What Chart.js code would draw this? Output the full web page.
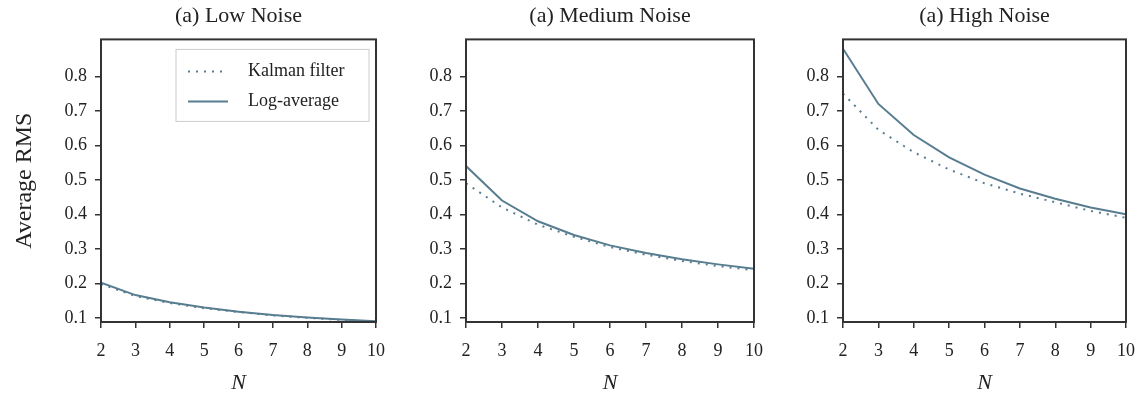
<!DOCTYPE html>
<html>
<head>
<meta charset="UTF-8">
<script src="https://cdn.jsdelivr.net/npm/chart.js"></script>
<style>
  body { margin: 0; background: #fff; overflow: hidden; }
  .panel { position: absolute; top: 0; height: 400px; }
</style>
</head>
<body>
<div class="panel" style="left:0;width:397px"><canvas id="c1"></canvas></div>
<div class="panel" style="left:385px;width:390px"><canvas id="c2"></canvas></div>
<div class="panel" style="left:763px;width:384px"><canvas id="c3"></canvas></div>
<script>
const nValues = [2, 3, 4, 5, 6, 7, 8, 9, 10];
const yTicks = [0.1, 0.2, 0.3, 0.4, 0.5, 0.6, 0.7, 0.8];
const titles = ['(a) Low Noise', '(a) Medium Noise', '(a) High Noise'];
const lowKalman = [0.198, 0.163, 0.143, 0.128, 0.117, 0.107, 0.1, 0.094, 0.089];
const lowLog = [0.202, 0.166, 0.145, 0.130, 0.118, 0.108, 0.101, 0.095, 0.090];
const medKalman = [0.49, 0.42, 0.37, 0.335, 0.305, 0.283, 0.265, 0.25, 0.238];
const medLog = [0.54, 0.44, 0.38, 0.34, 0.31, 0.288, 0.27, 0.255, 0.242];
const highKalman = [0.75, 0.645, 0.58, 0.53, 0.49, 0.46, 0.435, 0.41, 0.39];
const highLog = [0.88, 0.72, 0.63, 0.565, 0.515, 0.475, 0.445, 0.42, 0.40];

const col = '#587d90';
const font = 'Liberation Serif';

const boxPlugin = {
  id: 'box',
  afterDraw(chart) {
    const a = chart.chartArea, c = chart.ctx;
    c.save();
    c.strokeStyle = '#333';
    c.lineWidth = 2;
    c.strokeRect(a.left, a.top, a.right - a.left, a.bottom - a.top);
    c.restore();
  }
};

const legendPlugin = {
  id: 'innerLegend',
  afterDraw(chart) {
    if (chart.canvas.id !== 'c1') return;
    const c = chart.ctx, a = chart.chartArea;
    const x0 = a.right - 200, y0 = a.top + 10;
    c.save();
    c.strokeStyle = '#ccc';
    c.lineWidth = 1;
    c.strokeRect(x0, y0, 193, 72);
    c.strokeStyle = col;
    c.lineWidth = 2;
    c.setLineDash([2, 6]);
    c.beginPath(); c.moveTo(x0 + 12, y0 + 22); c.lineTo(x0 + 52, y0 + 22); c.stroke();
    c.setLineDash([]);
    c.beginPath(); c.moveTo(x0 + 12, y0 + 52); c.lineTo(x0 + 52, y0 + 52); c.stroke();
    c.fillStyle = '#222';
    c.font = '18px ' + font;
    c.textBaseline = 'middle';
    c.fillText('Kalman filter', x0 + 72, y0 + 22);
    c.fillText('Log-average', x0 + 72, y0 + 52);
    c.restore();
  }
};

function makeChart(id, idx, kalman, logAvg, yWidth, padRight) {
  new Chart(document.getElementById(id), {
    type: 'line',
    data: {
      labels: nValues,
      datasets: [
        { label: 'Kalman filter', data: kalman, borderColor: col, borderWidth: 2, borderDash: [2, 6], pointRadius: 0, tension: 0 },
        { label: 'Log-average', data: logAvg, borderColor: col, borderWidth: 2, pointRadius: 0, tension: 0 }
      ]
    },
    options: {
      responsive: true,
      maintainAspectRatio: false,
      animation: false,
      layout: { padding: { right: padRight, top: 0, bottom: 0, left: 0 } },
      plugins: {
        legend: { display: false },
        tooltip: { enabled: false },
        title: { display: true, fullSize: false, text: titles[idx], color: '#222', font: { family: font, size: 22, weight: 'normal' }, padding: { top: 3, bottom: 10 } }
      },
      scales: {
        x: {
          type: 'linear', min: 2, max: 10,
          afterBuildTicks: ax => { ax.ticks = nValues.map(v => ({ value: v })); },
          afterFit: ax => { ax.height = 78; },
          grid: { drawOnChartArea: false, tickLength: 6, color: '#333', lineWidth: 1.5 },
          border: { display: false },
          ticks: { color: '#222', font: { family: font, size: 18 }, padding: 12, maxRotation: 0 },
          title: { display: true, text: 'N', color: '#222', font: { family: font, size: 22, style: 'italic' }, padding: { top: 6 } }
        },
        y: {
          min: 0.088, max: 0.907,
          afterBuildTicks: ax => { ax.ticks = yTicks.map(v => ({ value: v })); },
          afterFit: ax => { ax.width = yWidth; },
          grid: { drawOnChartArea: false, tickLength: 6, color: '#333', lineWidth: 1.5 },
          border: { display: false },
          ticks: { color: '#222', font: { family: font, size: 18 }, padding: 8, callback: v => v.toFixed(1) },
          title: { display: idx === 0, text: 'Average RMS', color: '#222', font: { family: font, size: 24 }, padding: { top: 10, bottom: 0 } }
        }
      }
    },
    plugins: [boxPlugin, legendPlugin]
  });
}

makeChart('c1', 0, lowKalman, lowLog, 101, 0);
makeChart('c2', 1, medKalman, medLog, 81, 0);
makeChart('c3', 2, highKalman, highLog, 80, 0);
</script>
</body>
</html>
